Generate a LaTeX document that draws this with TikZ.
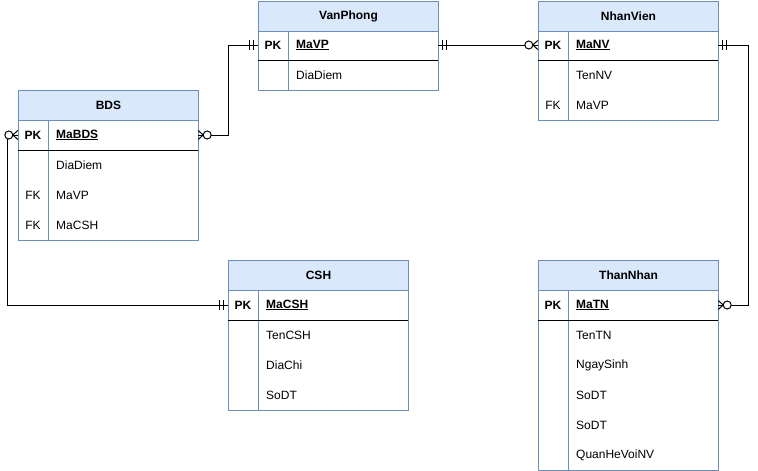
\documentclass[tikz,border=0pt]{standalone}
\usepackage{fontspec}
\setmainfont{Liberation Sans}
\definecolor{bcol}{HTML}{6C8EBF}
\definecolor{hfill}{HTML}{DAE8FC}
\begin{document}
\begin{tikzpicture}[x=1pt,y=-1pt,
  every node/.style={font=\fontsize{12pt}{14pt}\selectfont},
  hdr/.style={draw=bcol, fill=hfill, line width=1pt, minimum width=180pt, minimum height=30pt, inner sep=0pt, font=\fontsize{12pt}{14pt}\selectfont\bfseries},
  tblbody/.style={draw=bcol, line width=1pt, minimum width=180pt, inner sep=0pt},
  rowbox/.style={minimum width=180pt, minimum height=30pt, inner sep=0pt},
  keytxt/.style={inner sep=0pt, anchor=center},
  nametxt/.style={inner sep=0pt, anchor=west},
  pktxt/.style={inner sep=0pt, anchor=center, font=\fontsize{12pt}{14pt}\selectfont\bfseries},
  pkname/.style={inner sep=0pt, anchor=west, font=\fontsize{12pt}{14pt}\selectfont\bfseries},
  conn/.style={line width=1pt, black},
  zm/.pic={\draw[conn] (0,4.5) -- (5,0) -- (0,-4.5); \draw[conn] (0,0) -- (5,0);
           \draw[conn, fill=white] (9,0) circle[radius=4pt];},
  onlyone/.pic={\draw[conn] (4,-5) -- (4,5); \draw[conn] (8,-5) -- (8,5);}
]
\useasboundingbox (0,0) rectangle (758,471);

% ---------- VanPhong ----------
\node[tblbody, minimum height=60pt, anchor=north west] (vpb) at (258,30) {};
\draw[bcol, line width=1pt] (288,30) -- (288,90);
\draw[black, line width=1pt] (258,60) -- (438,60);
\node[hdr, anchor=north west] (vp) at (258,0.5) {VanPhong};
\node[rowbox] (vp1) at (348,45) {};
\node[pktxt] (vpk) at (273,45) {PK};
\node[pkname] (vpn1) at (296,45) {\underline{MaVP}};
\node[nametxt] (vpn2) at (296,75) {DiaDiem};

% ---------- NhanVien ----------
\node[tblbody, minimum height=90pt, anchor=north west] (nvb) at (538,30) {};
\draw[bcol, line width=1pt] (568,30) -- (568,120);
\draw[black, line width=1pt] (538,60) -- (718,60);
\node[hdr, anchor=north west] (nv) at (538,0.5) {NhanVien};
\node[rowbox] (nv1) at (628,45) {};
\node[pktxt] (nvk) at (553,45) {PK};
\node[pkname] (nvn1) at (576,45) {\underline{MaNV}};
\node[nametxt] (nvn2) at (576,75) {TenNV};
\node[keytxt] (nvk3) at (553,105) {FK};
\node[nametxt] (nvn3) at (576,105) {MaVP};

% ---------- BDS ----------
\node[tblbody, minimum height=120pt, anchor=north west] (bdsb) at (18,120) {};
\draw[bcol, line width=1pt] (48,120) -- (48,240);
\draw[black, line width=1pt] (18,150) -- (198,150);
\node[hdr, anchor=north west] (bds) at (18,90) {BDS};
\node[rowbox] (bds1) at (108,135) {};
\node[pktxt] (bdsk) at (33,135) {PK};
\node[pkname] (bdsn1) at (56,135) {\underline{MaBDS}};
\node[nametxt] (bdsn2) at (56,165) {DiaDiem};
\node[keytxt] (bdsk3) at (33,195) {FK};
\node[nametxt] (bdsn3) at (56,195) {MaVP};
\node[keytxt] (bdsk4) at (33,225) {FK};
\node[nametxt] (bdsn4) at (56,225) {MaCSH};

% ---------- CSH ----------
\node[tblbody, minimum height=120pt, anchor=north west] (cshb) at (228,290) {};
\draw[bcol, line width=1pt] (258,290) -- (258,410);
\draw[black, line width=1pt] (228,320) -- (408,320);
\node[hdr, anchor=north west] (csh) at (228,260) {CSH};
\node[rowbox] (csh1) at (318,305) {};
\node[pktxt] (cshk) at (243,305) {PK};
\node[pkname] (cshn1) at (266,305) {\underline{MaCSH}};
\node[nametxt] (cshn2) at (266,335) {TenCSH};
\node[nametxt] (cshn3) at (266,365) {DiaChi};
\node[nametxt] (cshn4) at (266,395) {SoDT};

% ---------- ThanNhan ----------
\node[tblbody, minimum height=180pt, anchor=north west] (tnb) at (538,290) {};
\draw[bcol, line width=1pt] (568,290) -- (568,470);
\draw[black, line width=1pt] (538,320) -- (718,320);
\node[hdr, anchor=north west] (tn) at (538,260) {ThanNhan};
\node[rowbox] (tn1) at (628,305) {};
\node[pktxt] (tnk) at (553,305) {PK};
\node[pkname] (tnn1) at (576,305) {\underline{MaTN}};
\node[nametxt] (tnn2) at (576,335) {TenTN};
\node[nametxt] (tnn3) at (576,365) {NgaySinh};
\node[nametxt] (tnn4) at (576,395) {SoDT};
\node[nametxt] (tnn5) at (576,425) {SoDT};
\node[nametxt] (tnn6) at (576,455) {QuanHeVoiNV};

% ---------- Connectors ----------
\draw[conn] (bds1.east) -- ++(30,0) |- (vp1.west);
\pic at (bds1.east) {zm};
\pic[rotate=180] at (vp1.west) {onlyone};

\draw[conn] (vp1.east) -- (nv1.west);
\pic at (vp1.east) {onlyone};
\pic[rotate=180] at (nv1.west) {zm};

\draw[conn] (nv1.east) -- ++(30,0) |- (tn1.east);
\pic at (nv1.east) {onlyone};
\pic at (tn1.east) {zm};

\draw[conn] (bds1.west) -- ++(-10,0) |- (csh1.west);
\pic[rotate=180] at (bds1.west) {zm};
\pic[rotate=180] at (csh1.west) {onlyone};
\end{tikzpicture}
\end{document}
